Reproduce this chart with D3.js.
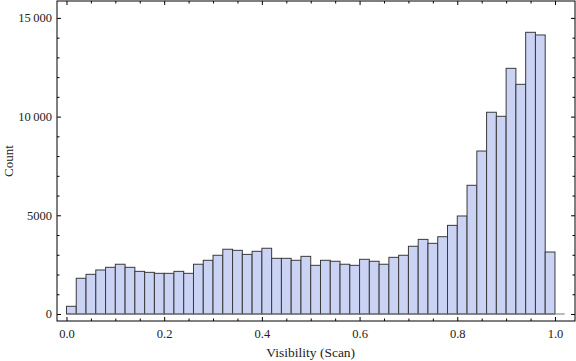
<!DOCTYPE html>
<html>
<head>
<meta charset="utf-8">
<script src="https://cdn.jsdelivr.net/npm/d3@7"></script>
<style>
  body { margin: 0; background: #fff; }
  text { font-family: "Liberation Serif", "DejaVu Serif", serif; font-size: 12px; fill: #222; }
</style>
</head>
<body>
<div id="chart"></div>
<script>
var margin = { top: 1, right: 1, bottom: 40, left: 57 },
    width = 576 - margin.left - margin.right,
    height = 361 - margin.top - margin.bottom;

// 50 bins of width 0.02 on [0, 1]
var binStarts = d3.range(50).map(function(i) { return i / 50; }),
    binWidth = 0.02,
    counts = [390, 1810, 2010, 2230, 2365, 2520, 2365, 2160, 2110, 2060,
              2060, 2160, 2060, 2520, 2720, 2975, 3280, 3225, 3020, 3175,
              3330, 2820, 2820, 2720, 2920, 2465, 2720, 2670, 2520, 2465,
              2770, 2670, 2520, 2870, 2975, 3430, 3780, 3580, 3915, 4490,
              4965, 6520, 8255, 10220, 10015, 12445, 11635, 14270, 14135, 3140],
    xTicks = [0, 0.2, 0.4, 0.6, 0.8, 1.0],
    yTicks = [0, 5000, 10000, 15000];

var x = d3.scaleLinear().domain([-0.0194, 1.041]).range([0, width]);
var y = d3.scaleLinear().domain([-355, 15856]).range([height, 0]);

var svg = d3.select("#chart").append("svg")
    .attr("width", 576)
    .attr("height", 361)
  .append("g")
    .attr("transform", "translate(" + margin.left + "," + margin.top + ")");

// bars
svg.selectAll(".bar")
    .data(counts)
    .enter().append("rect")
    .attr("class", "bar")
    .attr("x", function(d, i) { return x(binStarts[i]); })
    .attr("y", function(d) { return y(d); })
    .attr("width", function(d, i) { return x(binStarts[i] + binWidth) - x(binStarts[i]); })
    .attr("height", function(d) { return y(0) - y(d); })
    .style("fill", "#cbd3f5")
    .style("stroke", "#3a3a3a")
    .style("stroke-width", 1);

// baseline axis
svg.append("line")
    .attr("x1", x(0)).attr("x2", x(1.02))
    .attr("y1", y(0)).attr("y2", y(0))
    .style("stroke", "#777")
    .style("stroke-width", 1);

// frame
svg.append("rect")
    .attr("x", 0).attr("y", 0)
    .attr("width", width).attr("height", height)
    .style("fill", "none")
    .style("stroke", "#000")
    .style("stroke-width", 1);

var fmt = function(d) { return d >= 10000 ? d3.format(",")(d).replace(",", "\u2009") : String(d); };

// bottom / top ticks
var xMinor = d3.range(0, 1.0001, 0.05).filter(function(d) { return xTicks.every(function(t) { return Math.abs(t - d) > 1e-6; }); });
svg.append("g").attr("transform", "translate(0," + height + ")")
    .call(d3.axisBottom(x).tickValues(xTicks).tickFormat(d3.format(".1f")).tickSizeInner(-4).tickSizeOuter(0).tickPadding(8));
svg.append("g").attr("transform", "translate(0," + height + ")")
    .call(d3.axisBottom(x).tickValues(xMinor).tickFormat("").tickSizeInner(-2.5).tickSizeOuter(0));
svg.append("g")
    .call(d3.axisTop(x).tickValues(xTicks).tickFormat("").tickSizeInner(-4).tickSizeOuter(0));
svg.append("g")
    .call(d3.axisTop(x).tickValues(xMinor).tickFormat("").tickSizeInner(-2.5).tickSizeOuter(0));

// left / right ticks
var yMinor = d3.range(0, 15001, 1000).filter(function(d) { return d % 5000 !== 0; });
svg.append("g")
    .call(d3.axisLeft(y).tickValues(yTicks).tickFormat(fmt).tickSizeInner(-4).tickSizeOuter(0).tickPadding(5));
svg.append("g")
    .call(d3.axisLeft(y).tickValues(yMinor).tickFormat("").tickSizeInner(-2.5).tickSizeOuter(0));
svg.append("g").attr("transform", "translate(" + width + ",0)")
    .call(d3.axisRight(y).tickValues(yTicks).tickFormat("").tickSizeInner(-4).tickSizeOuter(0));
svg.append("g").attr("transform", "translate(" + width + ",0)")
    .call(d3.axisRight(y).tickValues(yMinor).tickFormat("").tickSizeInner(-2.5).tickSizeOuter(0));

svg.selectAll(".domain").remove();
svg.selectAll(".tick line").style("stroke", "#000");
svg.selectAll(".tick text").style("font-family", "'Liberation Serif', serif").style("font-size", "12.5px").style("fill", "#222");

// axis labels
svg.append("text")
    .attr("x", x(0.5))
    .attr("y", height + 36)
    .style("text-anchor", "middle")
    .style("font-size", "13.5px")
    .text("Visibility (Scan)");

svg.append("text")
    .attr("transform", "translate(" + (-44) + "," + (height / 2) + ") rotate(-90)")
    .style("text-anchor", "middle")
    .style("font-size", "13px")
    .text("Count");
</script>
</body>
</html>
